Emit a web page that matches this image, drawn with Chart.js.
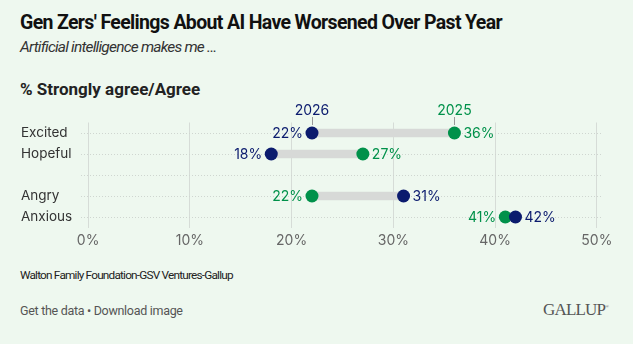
<!DOCTYPE html>
<html>
<head>
<meta charset="utf-8">
<script src="https://cdn.jsdelivr.net/npm/chart.js@4.4.1/dist/chart.umd.min.js"></script>
<style>
  html, body { margin: 0; padding: 0; }
  body { width: 633px; height: 344px; background: #eef8ef; position: relative; overflow: hidden; font-family: Roboto, "Liberation Sans", sans-serif; }
  .txt { position: absolute; white-space: nowrap; }
  #title { left: 20px; top: 11px; font-size: 19.5px; font-weight: bold; color: #111; letter-spacing: -0.65px; }
  #subtitle { left: 20px; top: 38px; font-size: 15.5px; font-style: italic; color: #333; letter-spacing: -0.8px; }
  #measure { left: 20px; top: 79px; font-size: 17px; font-weight: bold; color: #222; letter-spacing: 0px; }
  #source { left: 20px; top: 268px; font-size: 11.8px; color: #222; letter-spacing: -0.8px; }
  #links { left: 20px; top: 303px; font-size: 12.5px; color: #555; letter-spacing: -0.3px; }
  #logo { left: 543px; top: 300px; font-size: 17px; font-family: "Liberation Serif", serif; color: #555; letter-spacing: -0.8px; }
  #logo sup { font-size: 5px; }
  #wrap { position: absolute; left: 0; top: 100px; width: 633px; height: 150px; }
</style>
</head>
<body>
<div class="txt" id="title">Gen Zers' Feelings About AI Have Worsened Over Past Year</div>
<div class="txt" id="subtitle">Artificial intelligence makes me ...</div>
<div class="txt" id="measure">% Strongly agree/Agree</div>
<div id="wrap"><canvas id="chart"></canvas></div>
<div class="txt" id="source">Walton Family Foundation-GSV Ventures-Gallup</div>
<div class="txt" id="links">Get the data • Download image</div>
<div class="txt" id="logo">GALLUP<sup>®</sup></div>
<script>
// rows (the empty one is the spacer between the two groups)
var feelings = ['Excited', 'Hopeful', '', 'Angry', 'Anxious'];
var year2026 = [22, 18, null, 31, 42];
var year2025 = [36, 27, null, 22, 41];
var xTicks = [0, 10, 20, 30, 40, 50];

var NAVY = '#0b1b6e';
var GREEN = '#00914a';

// grey connector between the two years
var ranges = feelings.map(function(f, i){
	if (year2026[i] === null) return null;
	return [Math.min(year2026[i], year2025[i]), Math.max(year2026[i], year2025[i])];
});

var dumbbellLabels = {
	id: 'dumbbellLabels',
	afterDatasetsDraw: function(chart){
		var ctx = chart.ctx;
		var m26 = chart.getDatasetMeta(1).data;
		var m25 = chart.getDatasetMeta(2).data;
		ctx.save();
		ctx.font = '14px Inter, Roboto, sans-serif';
		ctx.textBaseline = 'middle';
		feelings.forEach(function(f, i){
			if (year2026[i] === null) return;
			var p26 = m26[i], p25 = m25[i];
			var lowIs26 = year2026[i] < year2025[i];
			var lo = lowIs26 ? p26 : p25, hi = lowIs26 ? p25 : p26;
			ctx.textAlign = 'right';
			ctx.fillStyle = lowIs26 ? NAVY : GREEN;
			ctx.fillText((lowIs26 ? year2026[i] : year2025[i]) + '%', lo.x - 9, lo.y + 1);
			ctx.textAlign = 'left';
			ctx.fillStyle = lowIs26 ? GREEN : NAVY;
			ctx.fillText((lowIs26 ? year2025[i] : year2026[i]) + '%', hi.x + 9, hi.y + 1);
		});
		// year keys above the first row
		[[m26[0], '2026', NAVY], [m25[0], '2025', GREEN]].forEach(function(k){
			var p = k[0];
			ctx.strokeStyle = '#999';
			ctx.lineWidth = 1;
			ctx.beginPath();
			ctx.moveTo(Math.round(p.x) + 0.5, p.y - 16);
			ctx.lineTo(Math.round(p.x) + 0.5, p.y - 8);
			ctx.stroke();
			ctx.textAlign = 'center';
			ctx.fillStyle = k[2];
			ctx.fillText(k[1], p.x, p.y - 22);
		});
		ctx.restore();
	}
};

new Chart(document.getElementById('chart'), {
	type: 'bar',
	data: {
		labels: feelings,
		datasets: [
			{
				data: ranges,
				backgroundColor: '#d7d9d7',
				barThickness: 8,
				borderSkipped: false,
				order: 10
			},
			{
				type: 'line',
				label: '2026',
				data: year2026,
				showLine: false,
				pointRadius: 6.5,
				pointHoverRadius: 6.5,
				pointBackgroundColor: NAVY,
				pointBorderWidth: 0,
				order: 1
			},
			{
				type: 'line',
				label: '2025',
				data: year2025,
				showLine: false,
				pointRadius: 6.5,
				pointHoverRadius: 6.5,
				pointBackgroundColor: GREEN,
				pointBorderWidth: 0,
				order: 2
			}
		]
	},
	options: {
		indexAxis: 'y',
		responsive: true,
		maintainAspectRatio: false,
		animation: false,
		layout: {padding: {left: 21, top: 22.5, right: 30, bottom: 0}},
		plugins: {legend: {display: false}, tooltip: {enabled: false}},
		scales: {
			x: {
				min: -0.7,
				max: 50.6,
				afterBuildTicks: function(scale){
					scale.ticks = xTicks.map(function(v){ return {value: v}; });
				},
				afterFit: function(scale){ scale.height = 22.5; },
				grid: {color: '#d6dcd7', drawTicks: false},
				border: {display: false},
				ticks: {
					padding: 5,
					color: '#666',
					font: {family: 'Inter, Roboto, sans-serif', size: 14},
					callback: function(v){ return v + '%'; }
				}
			},
			y: {
				afterFit: function(scale){ scale.width = 60; },
				grid: {offset: false, color: '#cfd6d0', drawTicks: false},
				border: {display: false, dash: [1, 2]},
				ticks: {
					crossAlign: 'far',
					padding: 0,
					color: '#333',
					font: {family: 'Inter, Roboto, sans-serif', size: 13.5}
				}
			}
		}
	},
	plugins: [dumbbellLabels]
});
</script>
</body>
</html>
